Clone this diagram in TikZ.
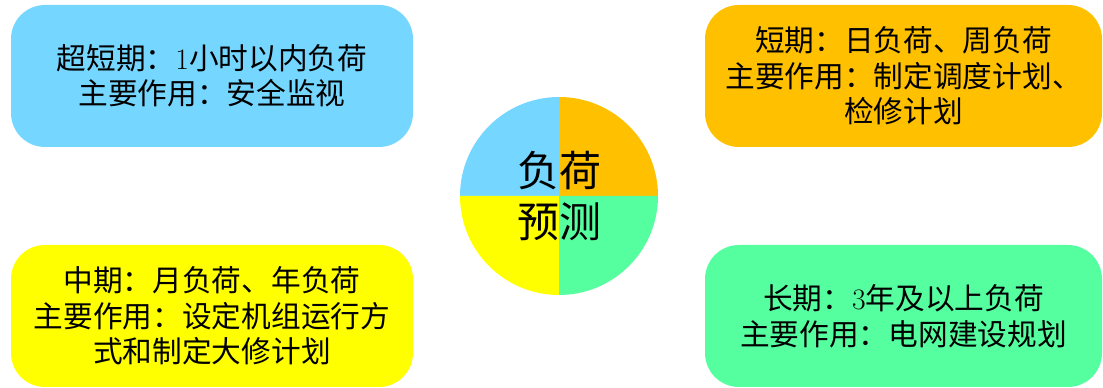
\documentclass[tikz,border=0pt]{standalone}
\usepackage{fontspec}
\newfontfamily\cjk{Noto Sans CJK SC}
\definecolor{cblue}{HTML}{75D7FF}
\definecolor{corange}{HTML}{FFC000}
\definecolor{cyellow}{HTML}{FFFF00}
\definecolor{cgreen}{HTML}{55FFA0}
\tikzset{
  infobox/.style={rectangle, rounded corners=34pt, inner sep=0pt, minimum height=142pt,
    align=center, font=\cjk\fontsize{29.7}{35.5}\selectfont, text=black},
  centertext/.style={inner sep=0pt, align=center, font=\cjk\fontsize{42}{51}\selectfont, text=black}
}
\begin{document}
\begin{tikzpicture}[x=1pt,y=1pt]
\useasboundingbox (0,0) rectangle (1103,388);
% boxes
\node[infobox, fill=cblue, minimum width=402pt] (b1) at (212,312)
  {超短期：{\rmfamily 1}小时以内负荷\\主要作用：安全监视};
\node[infobox, fill=corange, minimum width=397pt] (b2) at (903.5,312)
  {短期：日负荷、周负荷\\主要作用：制定调度计划、\\检修计划};
\node[infobox, fill=cyellow, minimum width=402pt] (b3) at (212,72)
  {中期：月负荷、年负荷\\主要作用：设定机组运行方\\式和制定大修计划};
\node[infobox, fill=cgreen, minimum width=397pt] (b4) at (903.5,72)
  {长期：{\rmfamily 3}年及以上负荷\\主要作用：电网建设规划};
% center circle
\coordinate (c) at (559,192);
\fill[cblue] (c) -- ++(180:99) arc[start angle=180, end angle=90, radius=99] -- cycle;
\fill[corange] (c) -- ++(90:99) arc[start angle=90, end angle=0, radius=99] -- cycle;
\fill[cgreen] (c) -- ++(0:99) arc[start angle=0, end angle=-90, radius=99] -- cycle;
\fill[cyellow] (c) -- ++(270:99) arc[start angle=270, end angle=180, radius=99] -- cycle;
\node[centertext] (t) at (c) {负荷\\预测};
\end{tikzpicture}
\end{document}
